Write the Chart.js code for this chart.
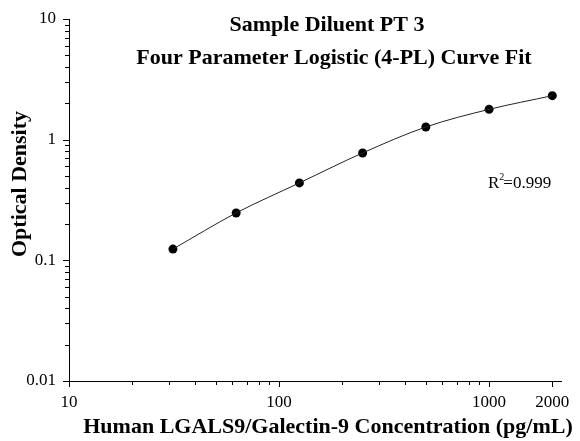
<!DOCTYPE html>
<html>
<head>
<meta charset="utf-8">
<script src="https://cdn.jsdelivr.net/npm/chart.js@4/dist/chart.umd.min.js"></script>
<style>
  html, body { margin: 0; padding: 0; background: #fff; }
  #wrap { width: 580px; height: 441px; }
</style>
</head>
<body>
<div id="wrap"><canvas id="chart" width="580" height="441"></canvas></div>
<script>
// Standard concentrations (pg/mL) and measured optical density
const concentrations = [31.25, 62.5, 125, 250, 500, 1000, 2000];
const opticalDensity = [0.124, 0.247, 0.438, 0.776, 1.274, 1.783, 2.315];

const xTickValues = [10, 20, 30, 40, 50, 60, 70, 80, 90, 100, 200, 300, 400, 500, 600, 700, 800, 900, 1000, 2000];
const xTickLabels = { 10: '10', 100: '100', 1000: '1000', 2000: '2000' };
const yTickValues = [0.01, 0.02, 0.03, 0.04, 0.05, 0.06, 0.07, 0.08, 0.09,
  0.1, 0.2, 0.3, 0.4, 0.5, 0.6, 0.7, 0.8, 0.9, 1, 2, 3, 4, 5, 6, 7, 8, 9, 10];
const yTickLabels = { 0.01: '0.01', 0.1: '0.1', 1: '1', 10: '10' };

const titleLines = ['Sample Diluent PT 3', 'Four Parameter Logistic (4-PL) Curve Fit'];
const xTitle = 'Human LGALS9/Galectin-9 Concentration (pg/mL)';
const yTitle = 'Optical Density';

const SERIF = '"Liberation Serif", "Times New Roman", serif';

const points = concentrations.map( ( c, i ) => ( { x: c, y: opticalDensity[ i ] } ) );

// Tick marks, titles and the R² note are drawn here
const decorations = {
  id: 'decorations',
  afterDraw( chart ) {
    const ctx = chart.ctx;
    const xs = chart.scales.x;
    const ys = chart.scales.y;
    const area = chart.chartArea;
    ctx.save();
    ctx.strokeStyle = '#000';
    ctx.lineWidth = 1;

    // x axis ticks (downward)
    xTickValues.forEach( v => {
      const px = Math.round( xs.getPixelForValue( v ) ) + 0.5;
      const len = xTickLabels[ v ] ? 6 : 4;
      ctx.beginPath();
      ctx.moveTo( px, area.bottom );
      ctx.lineTo( px, area.bottom + len );
      ctx.stroke();
    } );

    // y axis ticks (leftward)
    yTickValues.forEach( v => {
      const py = Math.round( ys.getPixelForValue( v ) ) + 0.5;
      const len = yTickLabels[ v ] ? 6 : 4;
      ctx.beginPath();
      ctx.moveTo( area.left, py );
      ctx.lineTo( area.left - len, py );
      ctx.stroke();
    } );

    ctx.fillStyle = '#000';
    ctx.textAlign = 'center';
    ctx.textBaseline = 'middle';

    // chart title
    ctx.font = 'bold 22px ' + SERIF;
    ctx.fillText( titleLines[ 0 ], 327, 25 );
    ctx.fillText( titleLines[ 1 ], 334, 58 );

    // x axis title
    ctx.fillText( xTitle, 328, 427 );

    // y axis title
    ctx.save();
    ctx.translate( 20, 184 );
    ctx.rotate( -Math.PI / 2 );
    ctx.fillText( yTitle, 0, 0 );
    ctx.restore();

    // R squared
    ctx.textAlign = 'left';
    ctx.font = '17px ' + SERIF;
    ctx.fillText( 'R', 488, 184 );
    const rw = ctx.measureText( 'R' ).width;
    ctx.font = '10px ' + SERIF;
    ctx.fillText( '2', 488 + rw, 177 );
    ctx.font = '17px ' + SERIF;
    ctx.fillText( '=0.999', 488 + rw + 4, 184 );

    ctx.restore();
  }
};

new Chart( document.getElementById( 'chart' ), {
  type: 'scatter',
  data: {
    datasets: [
      {
        // fitted curve through the standards
        data: points,
        showLine: true,
        cubicInterpolationMode: 'monotone',
        borderColor: '#222',
        borderWidth: 1,
        pointRadius: 0,
        fill: false
      },
      {
        data: points,
        showLine: false,
        pointRadius: 4.5,
        pointBackgroundColor: '#000',
        pointBorderColor: '#000',
        pointBorderWidth: 0
      }
    ]
  },
  options: {
    responsive: false,
    animation: false,
    devicePixelRatio: 1,
    layout: { padding: { left: 0, top: 19, right: 19, bottom: 0 } },
    plugins: {
      legend: { display: false },
      tooltip: { enabled: false }
    },
    scales: {
      x: {
        type: 'logarithmic',
        min: 10,
        max: 2200,
        afterFit: scale => {
          scale.height = 60;
          scale.paddingLeft = 0;
          scale.paddingRight = 0;
        },
        afterBuildTicks: scale => {
          scale.ticks = xTickValues.map( v => ( { value: v } ) );
        },
        grid: { display: false, drawTicks: false },
        border: { display: true, color: '#000', width: 1 },
        ticks: {
          autoSkip: false,
          maxRotation: 0,
          padding: 11,
          color: '#000',
          font: { family: SERIF, size: 17 },
          callback: v => xTickLabels[ v ] || ''
        }
      },
      y: {
        type: 'logarithmic',
        min: 0.01,
        max: 10,
        afterFit: scale => {
          scale.width = 69;
          scale.paddingTop = 0;
          scale.paddingBottom = 0;
        },
        afterBuildTicks: scale => {
          scale.ticks = yTickValues.map( v => ( { value: v } ) );
        },
        grid: { display: false, drawTicks: false },
        border: { display: true, color: '#000', width: 1 },
        ticks: {
          autoSkip: false,
          padding: 13,
          color: '#000',
          font: { family: SERIF, size: 17 },
          callback: v => yTickLabels[ v ] || ''
        }
      }
    }
  },
  plugins: [ decorations ]
} );
</script>
</body>
</html>
